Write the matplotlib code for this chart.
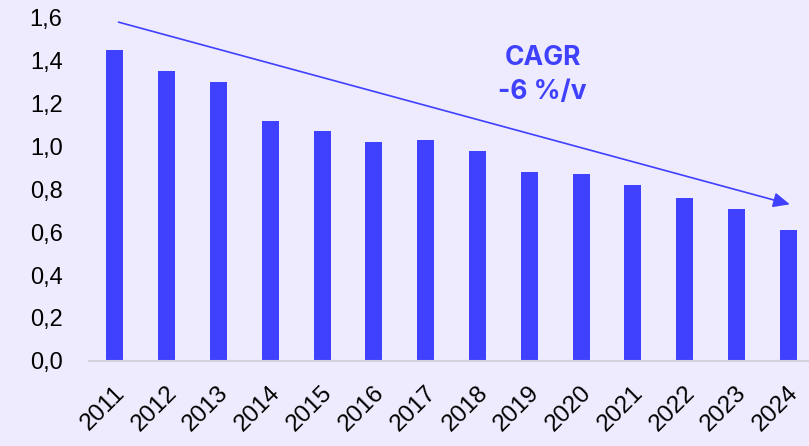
import matplotlib
matplotlib.use("Agg")
import matplotlib.pyplot as plt

# ==========================================
# DATA
# ==========================================
years = ["2011", "2012", "2013", "2014", "2015", "2016", "2017",
         "2018", "2019", "2020", "2021", "2022", "2023", "2024"]
values = [1.45, 1.35, 1.30, 1.12, 1.07, 1.02, 1.03,
          0.98, 0.88, 0.87, 0.82, 0.76, 0.71, 0.61]
y_ticks = [0.0, 0.2, 0.4, 0.6, 0.8, 1.0, 1.2, 1.4, 1.6]
trend_start = (0.07, 1.58)
trend_end = (13.03, 0.73)
cagr_label = "CAGR\n-6 %/v"

BG = "#EDEBFD"
BLUE = "#4040FF"

plt.rcParams['font.family'] = ['Liberation Sans', 'DejaVu Sans']

fig = plt.figure(figsize=(8.09, 4.46), dpi=100, facecolor=BG)
ax = fig.add_axes([0.110, 0.191, 0.890, 0.769])
ax.set_facecolor(BG)

x = list(range(len(years)))
ax.bar(x, values, width=0.33, color=BLUE, zorder=2)

ax.set_xlim(-0.5, 13.4)
ax.set_ylim(0, 1.6)
ax.set_yticks(y_ticks)
ax.set_yticklabels([f"{v:.1f}".replace(".", ",") for v in y_ticks])
ax.set_xticks([i - 0.02 for i in x])
ax.set_xticklabels(years, rotation=45, ha="right", rotation_mode="anchor")

ax.tick_params(axis="y", length=0, pad=19, labelsize=17, colors="black")
ax.tick_params(axis="x", length=0, pad=15, labelsize=17.5, colors="black")

for side in ["left", "right", "top"]:
    ax.spines[side].set_visible(False)
ax.spines["bottom"].set_color("#D2D2DC")
ax.spines["bottom"].set_linewidth(1.5)

# trend arrow
ax.annotate("", xy=trend_end, xytext=trend_start,
            arrowprops=dict(arrowstyle="-|>,head_length=1.0,head_width=0.45",
                            color=BLUE, lw=1.2, shrinkA=0, shrinkB=0),
            annotation_clip=False, zorder=3)

ax.text(8.26, 1.335, cagr_label, color=BLUE, fontsize=19, fontweight="bold",
        ha="center", va="center", linespacing=1.4,
        family=['Inter', 'Liberation Sans', 'DejaVu Sans'])

fig.savefig("out.png", dpi=100, facecolor=BG)
